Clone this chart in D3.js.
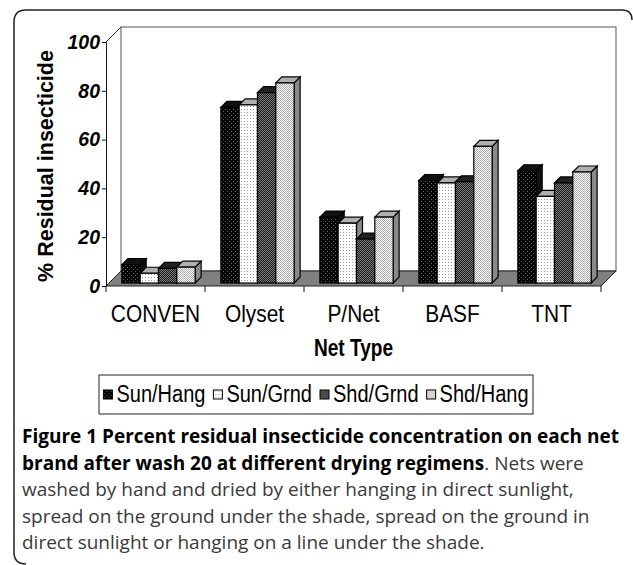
<!DOCTYPE html>
<html>
<head>
<meta charset="utf-8">
<script src="https://cdn.jsdelivr.net/npm/d3@7"></script>
<style>
  body { margin: 0; background: #fff; }
  svg { display: block; }
</style>
</head>
<body>
<div id="chart"></div>
<script>
// data
var categories = ["CONVEN", "Olyset", "P/Net", "BASF", "TNT"];
var seriesNames = ["Sun/Hang", "Sun/Grnd", "Shd/Grnd", "Shd/Hang"];
var sunHang = [7.5, 72, 27, 42, 46];
var sunGrnd = [4, 73, 24.5, 41, 35.5];
var shdGrnd = [6, 78, 18, 41.5, 41];
var shdHang = [6.5, 82, 27, 56, 45.5];
var yTicks = [0, 20, 40, 60, 80, 100];
var captionBold = ["Figure 1 Percent residual insecticide concentration on each net",
                   "brand after wash 20 at different drying regimens"];
var captionRest = [". Nets were",
                   "washed by hand and dried by either hanging in direct sunlight,",
                   "spread on the ground under the shade, spread on the ground in",
                   "direct sunlight or hanging on a line under the shade."];

var series = [sunHang, sunGrnd, shdGrnd, shdHang];

var width = 633, height = 565;
var svg = d3.select("#chart").append("svg")
    .attr("width", width)
    .attr("height", height);

var defs = svg.append("defs");

// fill patterns like the old excel print
function pat(id, size, bg, dots, fg) {
    var p = defs.append("pattern").attr("id", id)
        .attr("patternUnits", "userSpaceOnUse")
        .attr("width", size).attr("height", size);
    p.append("rect").attr("width", size).attr("height", size).attr("fill", bg);
    dots.forEach(function(d) {
        p.append("rect").attr("x", d[0]).attr("y", d[1]).attr("width", 1).attr("height", 1).attr("fill", fg);
    });
}
pat("p0", 4, "#000", [[1, 1], [3, 3]], "#6a6a6a");
pat("p1", 3, "#fff", [[1, 1]], "#9a9a9a");
pat("p2", 2, "#1e1e1e", [[0, 0], [1, 1]], "#7a7a7a");
pat("p3", 2, "#fff", [[0, 0], [1, 1]], "#a8a8a8");

var fills = ["url(#p0)", "url(#p1)", "url(#p2)", "url(#p3)"];
var topFills = ["#111", "#b0b0b0", "#222", "#b0b0b0"];
var sideFills = ["#111", "#8a8a8a", "#222", "#8a8a8a"];
var chartFont = "Liberation Sans, Arial, sans-serif";
var narrow = 0.87; // chart text looks like arial narrow

// frame of the figure
svg.append("path")
    .attr("d", "M26,564 Q14,564 14,552 L14,22 Q14,10 26,10 L622,10 Q632,10 632,20")
    .attr("fill", "none").attr("stroke", "#222").attr("stroke-width", 1.5);

var x0 = 106, x1 = 601, depth = 15;
var y = d3.scaleLinear().domain([0, 100]).range([286, 42]);
var x = d3.scaleBand().domain(categories).range([x0, x1]).paddingInner(0.26).paddingOuter(0.13);
var xs = d3.scaleBand().domain(seriesNames).range([0, x.bandwidth()]);

var g = svg.append("g");

// back wall + side wall
g.append("rect")
    .attr("x", x0 + depth).attr("y", y(100) - depth)
    .attr("width", x1 - x0).attr("height", y(0) - y(100))
    .attr("fill", "#fff").attr("stroke", "#555").attr("stroke-width", 1);
g.append("path")
    .attr("d", "M" + x0 + "," + y(100) + "L" + (x0 + depth) + "," + (y(100) - depth))
    .attr("stroke", "#333").attr("fill", "none");

// floor
g.append("path")
    .attr("d", "M" + x0 + "," + y(0) + "L" + x1 + "," + y(0) + "L" + (x1 + depth) + "," + (y(0) - depth) +
        "L" + (x0 + depth) + "," + (y(0) - depth) + "Z")
    .attr("fill", "#808080").attr("stroke", "#222").attr("stroke-width", 1);

// y axis
var yAxis = g.append("g")
    .attr("transform", "translate(" + x0 + ",0)")
    .call(d3.axisLeft(y).tickValues(yTicks).tickSize(4).tickPadding(2));
yAxis.select(".domain").attr("stroke", "#111");
yAxis.selectAll("line").attr("stroke", "#111");
yAxis.selectAll("text")
    .attr("font-family", chartFont)
    .attr("font-size", 19.5).attr("font-weight", "bold").attr("font-style", "italic")
    .attr("fill", "#000");

// x axis labels under the floor
var xAxis = g.append("g")
    .attr("transform", "translate(0," + y(0) + ")")
    .call(d3.axisBottom(x).tickSize(0).tickPadding(19));
xAxis.select(".domain").remove();
xAxis.selectAll("text")
    .attr("font-family", chartFont)
    .attr("font-size", 24).attr("fill", "#000")
    .attr("transform", "scale(" + narrow + ",1)");
g.append("g").selectAll("line")
    .data(d3.range(categories.length + 1))
    .join("line")
    .attr("x1", function(i) { return x0 + i * x.step(); })
    .attr("x2", function(i) { return x0 + i * x.step(); })
    .attr("y1", y(0)).attr("y2", y(0) + 6)
    .attr("stroke", "#111");

// 3d bars
var off = 3, bd = 6;
categories.forEach(function(c, ci) {
    seriesNames.forEach(function(s, si) {
        var v = series[si][ci];
        var bx = x(c) + xs(s) + off, bw = xs.bandwidth();
        var by = y(v) - off, bb = y(0) - off;
        var bar = g.append("g");
        bar.append("path")
            .attr("d", "M" + (bx + bw) + "," + by + "l" + bd + "," + (-bd) + "L" + (bx + bw + bd) + "," + (bb - bd) +
                "L" + (bx + bw) + "," + bb + "Z")
            .attr("fill", sideFills[si]).attr("stroke", "#000").attr("stroke-width", 1.2);
        bar.append("path")
            .attr("d", "M" + bx + "," + by + "l" + bd + "," + (-bd) + "l" + bw + ",0l" + (-bd) + "," + bd + "Z")
            .attr("fill", topFills[si]).attr("stroke", "#000").attr("stroke-width", 1.2);
        bar.append("rect")
            .attr("x", bx).attr("y", by).attr("width", bw).attr("height", bb - by)
            .attr("fill", fills[si]).attr("stroke", "#000").attr("stroke-width", 1.2);
    });
});

// axis titles
svg.append("text")
    .attr("transform", "translate(53,166) rotate(-90)")
    .attr("text-anchor", "middle")
    .attr("font-family", chartFont)
    .attr("font-size", 21.5).attr("font-weight", "bold")
    .text("% Residual insecticide");

svg.append("g")
    .attr("transform", "translate(" + ((x0 + x1) / 2) + ",356) scale(0.83,1)")
    .append("text")
    .attr("text-anchor", "middle")
    .attr("font-family", chartFont)
    .attr("font-size", 23).attr("font-weight", "bold")
    .text("Net Type");

// legend, centred in its box
var lg = svg.append("g");
var boxX = 99, boxW = 434;
lg.append("rect").attr("x", boxX).attr("y", 375).attr("width", boxW).attr("height", 39)
    .attr("fill", "#fff").attr("stroke", "#222").attr("stroke-width", 1);
var items = lg.append("g");
var lx = 0;
seriesNames.forEach(function(s, si) {
    items.append("rect").attr("x", lx).attr("y", 390).attr("width", 9).attr("height", 9)
        .attr("fill", fills[si]).attr("stroke", "#000").attr("stroke-width", 1);
    var t = items.append("g").attr("transform", "translate(" + (lx + 13) + ",402) scale(" + narrow + ",1)")
        .append("text")
        .attr("font-family", chartFont)
        .attr("font-size", 23).text(s);
    lx += 13 + t.node().getComputedTextLength() * narrow + 8;
});
lx -= 8;
items.attr("transform", "translate(" + (boxX + (boxW - lx) / 2) + ",0)");

// caption
var cap = svg.append("g").attr("font-family", "Open Sans, sans-serif").attr("font-size", 19);
var lineY = [443, 470, 496, 523, 549];
cap.append("text").attr("x", 22).attr("y", lineY[0]).attr("font-weight", "bold").attr("fill", "#000").text(captionBold[0]);
var l2 = cap.append("text").attr("x", 22).attr("y", lineY[1]);
l2.append("tspan").attr("font-weight", "bold").attr("fill", "#000").text(captionBold[1]);
l2.append("tspan").attr("fill", "#3a3a3a").text(captionRest[0]);
for (var i = 1; i < captionRest.length; i++) {
    cap.append("text").attr("x", 22).attr("y", lineY[i + 1]).attr("fill", "#3a3a3a").text(captionRest[i]);
}
</script>
</body>
</html>
